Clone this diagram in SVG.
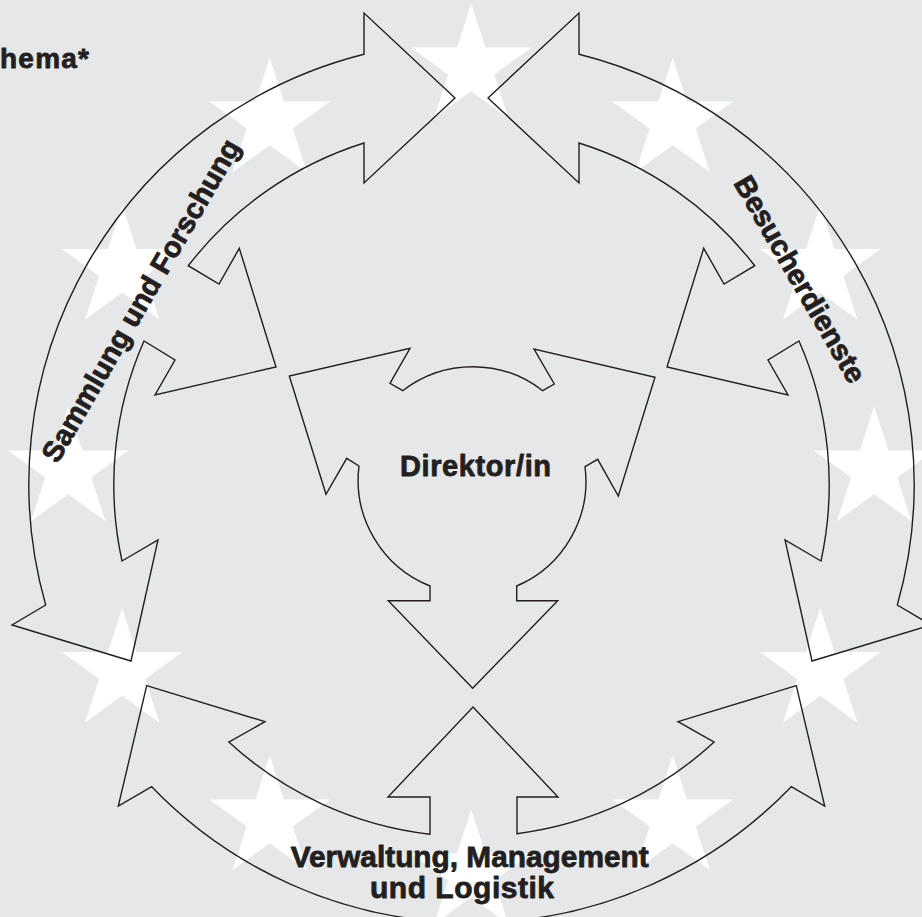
<svg xmlns="http://www.w3.org/2000/svg" width="922" height="917" viewBox="0 0 922 917">
  <style>
    .bg { fill: #e6e7e8; }
    .star { fill: #ffffff; }
    .shape { fill: none; stroke: #231f20; stroke-width: 1.4; stroke-linejoin: miter; stroke-miterlimit: 10; }
    .lbl { font-family: "Liberation Sans", Arial, Helvetica, sans-serif; font-weight: bold; fill: #231f20; stroke: #231f20; stroke-width: 0.8; stroke-linejoin: round; }
  </style>
  <defs>
    <path id="star" class="star" d="M0,-63.5 L14.25,-19.62 L60.39,-19.62 L23.06,7.49 L37.32,51.37 L0,24.25 L-37.32,51.37 L-23.06,7.49 L-60.39,-19.62 L-14.25,-19.62 Z"/>
    <path id="sideArrow" class="shape" d="M455,98 L364,13 L364,54.2 A443,443 0 0 0 45.7,605 L12,625 L131,661 L158,540 L122,561 A357.5,357.5 0 0 1 144,341 L175,360 L155,395 L276,367 L239.3,248.3 L219,284 L188.3,265.7 A357.5,357.5 0 0 1 364,143 L364,183 Z"/>
  </defs>
  <rect class="bg" x="0" y="0" width="922" height="917"/>

  <g id="stars">
    <use href="#star" x="471.2" y="67"/>
    <use href="#star" x="672.7" y="121"/>
    <use href="#star" x="820.2" y="268.5"/>
    <use href="#star" x="874.2" y="470"/>
    <use href="#star" x="820.2" y="671.5"/>
    <use href="#star" x="672.7" y="819"/>
    <use href="#star" x="471.2" y="873"/>
    <use href="#star" x="269.7" y="819"/>
    <use href="#star" x="122.2" y="671.5"/>
    <use href="#star" x="68.2" y="470"/>
    <use href="#star" x="122.2" y="268.5"/>
    <use href="#star" x="269.7" y="121"/>
  </g>

  <g id="connectors">
    <use id="arrow-sammlung" href="#sideArrow"/>
    <use id="arrow-besucher" href="#sideArrow" transform="matrix(-1 0 0 1 943 0)"/>
    <path id="arrow-verwaltung" class="shape" d="M146.7,685.7 L265,721.7 L228.8,742.1 A358.6,358.6 0 0 0 430,834.2 L430,797 L388,797 L473,707 L558,797 L517,797 L517,833.7 A358.6,358.6 0 0 0 714.2,742.1 L678,721.7 L796.3,685.7 L824.7,806 L791.3,786.7 A444,444 0 0 1 151.7,786.7 L118.3,806 Z"/>
  </g>

  <g id="title">
    <text class="lbl" x="0" y="68.3" font-size="28" textLength="89" lengthAdjust="spacing">hema*</text>
  </g>

  <g id="node-sammlung">
    <text class="lbl" font-size="29" text-anchor="middle" transform="translate(149.3 305.5) rotate(-60)">Sammlung und Forschung</text>
  </g>

  <g id="node-besucher">
    <text class="lbl" font-size="29" text-anchor="middle" transform="translate(791.4 284.2) rotate(60)">Besucherdienste</text>
  </g>

  <g id="node-verwaltung">
    <text class="lbl" font-size="30" text-anchor="middle" x="469.7" y="866.7" textLength="358" lengthAdjust="spacingAndGlyphs">Verwaltung, Management</text>
    <text class="lbl" font-size="30" text-anchor="middle" x="462" y="898.3" textLength="184" lengthAdjust="spacing">und Logistik</text>
  </g>

  <g id="node-direktor">
    <path class="shape" d="M472.7,688.3 L388.3,600.7 L430,600.7 L430,586 A114,114 0 0 1 359,466 L346.7,458.3 L326,494.3 L289.3,376 L410,348.3 L390,383.3 L402.7,390.7 A114,114 0 0 1 542.7,390.7 L554.3,384 L534,349 L655,377.3 L618.3,496 L597.7,459.3 L585,466.7 A114,114 0 0 1 516.7,586 L516.7,600.7 L557.7,600.7 Z"/>
    <text class="lbl" font-size="29" text-anchor="middle" x="475.5" y="476" textLength="151" lengthAdjust="spacing">Direktor/in</text>
  </g>
</svg>
